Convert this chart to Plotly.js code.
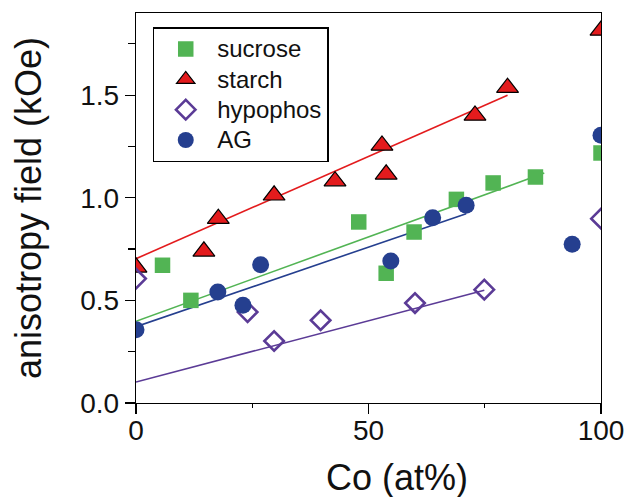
<!DOCTYPE html>
<html>
<head>
<meta charset="utf-8">
<script src="https://cdn.plot.ly/plotly-3.0.1.min.js"></script>
<style>html,body{margin:0;padding:0;background:#fff;}#chart{width:629px;height:497px;}</style>
</head>
<body>
<div id="chart"></div>
<script>
// ---- data ----
const sucroseX = [5.7, 11.8, 47.9, 53.8, 59.8, 68.9, 76.8, 85.9, 100];
const sucroseY = [0.671, 0.500, 0.882, 0.632, 0.833, 0.992, 1.072, 1.101, 1.218];

const starchX = [0, 14.6, 17.7, 29.7, 42.8, 52.9, 53.8, 72.9, 79.9, 100];
const starchY = [0.661, 0.739, 0.898, 1.012, 1.081, 1.255, 1.114, 1.401, 1.536, 1.815];

const hypophosX = [0, 24.0, 29.7, 39.7, 60.0, 74.9, 100];
const hypophosY = [0.606, 0.443, 0.302, 0.403, 0.487, 0.552, 0.898];

const agX = [0, 17.6, 23.0, 26.8, 54.8, 63.8, 71.0, 93.8, 100];
const agY = [0.357, 0.541, 0.476, 0.674, 0.692, 0.903, 0.963, 0.773, 1.304];

// linear fit lines (end points)
const sucroseFitX = [0, 87.8];
const sucroseFitY = [0.398, 1.120];
const starchFitX = [0, 79.9];
const starchFitY = [0.703, 1.499];
const hypophosFitX = [0, 74.9];
const hypophosFitY = [0.102, 0.549];
const agFitX = [0, 71.0];
const agFitY = [0.372, 0.922];

const seriesNames = ["sucrose", "starch", "hypophos", "AG"];
const xTitle = "Co (at%)";
const yTitle = "anisotropy field (kOe)";

// ---- styles ----
const cGreen = "#52b454";
const cRed = "#e31b1d";
const cPurple = "#5b3b96";
const cBlue = "#253f8f";
const FONT = "Arial, 'Liberation Sans', Helvetica, sans-serif";
const legendName = n => '<span style="font-size:24px">' + n + '</span>';

const traces = [
  {x: sucroseFitX, y: sucroseFitY, mode: "lines", line: {color: cGreen, width: 1.6}, showlegend: false, hoverinfo: "skip"},
  {x: starchFitX, y: starchFitY, mode: "lines", line: {color: cRed, width: 1.6}, showlegend: false, hoverinfo: "skip"},
  {x: hypophosFitX, y: hypophosFitY, mode: "lines", line: {color: cPurple, width: 1.6}, showlegend: false, hoverinfo: "skip"},
  {x: agFitX, y: agFitY, mode: "lines", line: {color: cBlue, width: 1.6}, showlegend: false, hoverinfo: "skip"},
  {x: sucroseX, y: sucroseY, name: legendName(seriesNames[0]), mode: "markers",
   marker: {symbol: "square", size: 15.5, color: cGreen, line: {width: 0}}},
  {x: starchX, y: starchY, name: legendName(seriesNames[1]), mode: "markers",
   marker: {symbol: "triangle-up", size: 19, color: cRed, line: {width: 1.2, color: "#000"}}},
  {x: hypophosX, y: hypophosY, name: legendName(seriesNames[2]), mode: "markers",
   marker: {symbol: "diamond-open", size: 15, color: cPurple, line: {width: 2.6, color: cPurple}}},
  {x: agX, y: agY, name: legendName(seriesNames[3]), mode: "markers",
   marker: {symbol: "circle", size: 17, color: cBlue, line: {width: 0}}}
];

const layout = {
  width: 629, height: 497,
  margin: {l: 136, r: 28, t: 13, b: 94},
  paper_bgcolor: "#fff", plot_bgcolor: "#fff",
  font: {family: FONT, color: "#111"},
  showlegend: true,
  legend: {
    x: 0.036, y: 0.963, xanchor: "left", yanchor: "top",
    bgcolor: "#fff", bordercolor: "#000", borderwidth: 1.5,
    font: {family: FONT, size: 21, color: "#111"},
    itemwidth: 53, tracegroupgap: 0
  },
  xaxis: {
    range: [0, 100], dtick: 50, tick0: 0,
    ticks: "outside", ticklen: 10, tickwidth: 1.2, tickcolor: "#000",
    minor: {dtick: 25, ticks: "outside", ticklen: 4, tickwidth: 1.2, tickcolor: "#000"},
    showline: true, linecolor: "#000", linewidth: 1.3, mirror: true,
    showgrid: false, zeroline: false, ticklabelstandoff: -8,
    tickfont: {family: FONT, size: 28, color: "#111"}
  },
  yaxis: {
    range: [0, 1.9], dtick: 0.5, tick0: 0, tickformat: ".1f",
    ticks: "outside", ticklen: 10, tickwidth: 1.2, tickcolor: "#000",
    minor: {dtick: 0.25, ticks: "outside", ticklen: 7, tickwidth: 1.2, tickcolor: "#000"},
    showline: true, linecolor: "#000", linewidth: 1.3, mirror: true,
    showgrid: false, zeroline: false,
    tickfont: {family: FONT, size: 28, color: "#111"},
    title: {text: yTitle, font: {family: FONT, size: 36, color: "#111"}, standoff: 27}
  },
  annotations: [{
    text: xTitle, xref: "paper", yref: "paper", x: 0.5617, y: -0.19,
    xanchor: "center", yanchor: "middle", showarrow: false,
    font: {family: FONT, size: 36, color: "#111"}
  }]
};

Plotly.newPlot("chart", traces, layout, {staticPlot: true, displayModeBar: false});
</script>
</body>
</html>
